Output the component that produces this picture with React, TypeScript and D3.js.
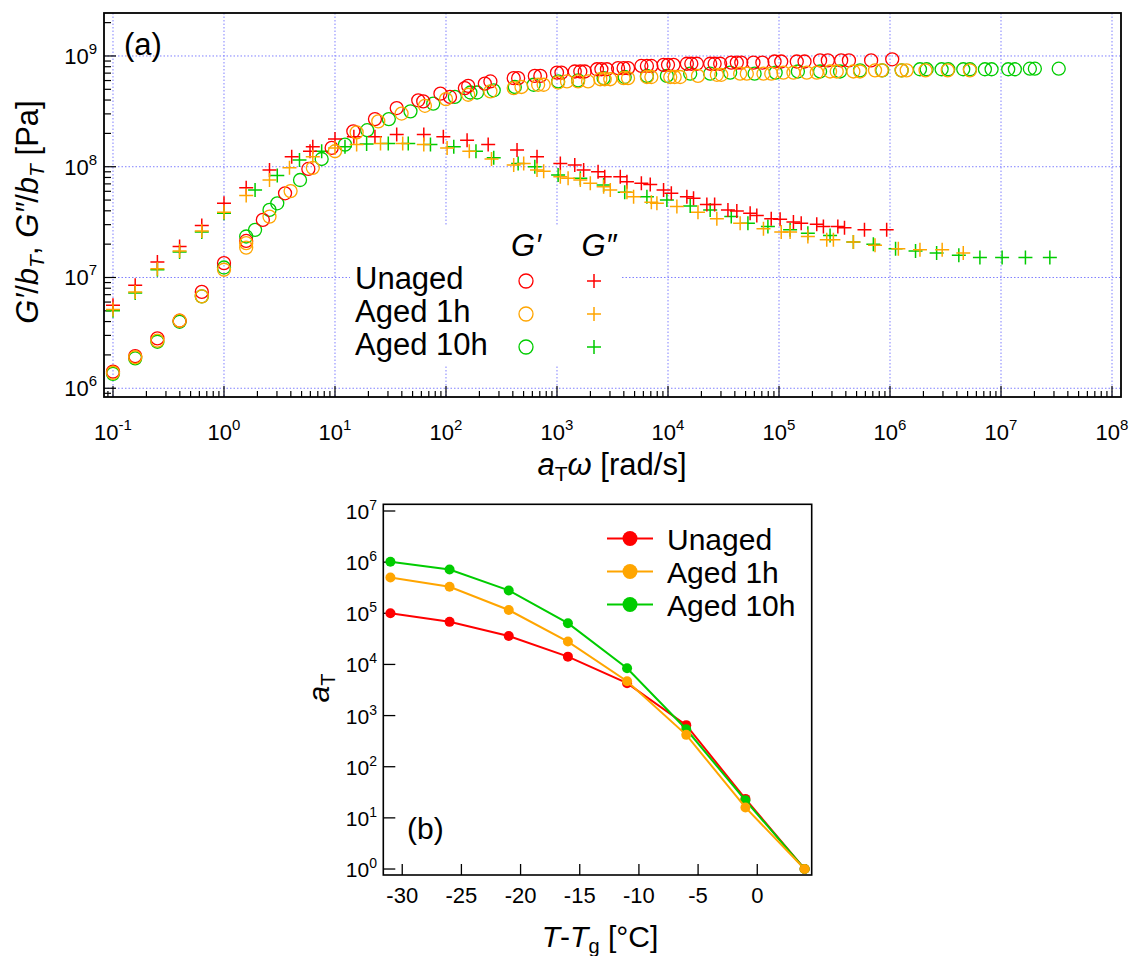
import React from "react";
import * as d3 from "d3";

const FONT = "'Liberation Sans', Arial, Helvetica, sans-serif";
const RED = "#ff0000";
const ORANGE = "#ffa500";
const GREEN = "#00cc00";
const GRID = "#8080ff";

// Panel (a): [log10(aT*omega [rad/s]), log10(G/bT [Pa])]
const unagedStorageLog: [number, number][] = [
  [-1.0, 6.15], [-0.8, 6.29], [-0.6, 6.45], [-0.4, 6.61], [-0.2, 6.87], [0.0, 7.13], [0.2, 7.33], [0.35, 7.52],
  [0.55, 7.76], [0.76, 7.98], [0.97, 8.17], [1.165, 8.32], [1.36, 8.43], [1.556, 8.53], [1.75, 8.6], [1.795, 8.59],
  [1.95, 8.66], [2.036, 8.63], [2.17, 8.71], [2.2, 8.73], [2.35, 8.75], [2.4, 8.77], [2.61, 8.8], [2.65, 8.8],
  [2.8, 8.82], [2.85, 8.82], [3.0, 8.85], [3.04, 8.85], [3.16, 8.86], [3.21, 8.86], [3.25, 8.86], [3.36, 8.88],
  [3.4, 8.88], [3.45, 8.88], [3.55, 8.89], [3.6, 8.89], [3.64, 8.89], [3.76, 8.91], [3.81, 8.91], [3.85, 8.91],
  [3.96, 8.92], [4.0, 8.92], [4.05, 8.92], [4.17, 8.93], [4.21, 8.93], [4.26, 8.93], [4.38, 8.93], [4.42, 8.93],
  [4.47, 8.93], [4.57, 8.94], [4.62, 8.94], [4.66, 8.94], [4.77, 8.94], [4.85, 8.94], [4.96, 8.95], [5.02, 8.95],
  [5.16, 8.95], [5.23, 8.95], [5.37, 8.96], [5.44, 8.96], [5.56, 8.96], [5.63, 8.96], [5.83, 8.96], [6.02, 8.97],
];
const aged1hStorageLog: [number, number][] = [
  [-1.0, 6.14], [-0.8, 6.28], [-0.6, 6.43], [-0.4, 6.61], [-0.2, 6.83], [0.0, 7.07], [0.2, 7.31], [0.2, 7.27],
  [0.41, 7.55], [0.6, 7.78], [0.8, 7.99], [1.0, 8.14], [1.195, 8.31], [1.39, 8.41], [1.6, 8.48], [1.81, 8.55],
  [2.0, 8.61], [2.2, 8.65], [2.4, 8.68], [2.61, 8.71], [2.68, 8.72], [2.83, 8.74], [2.88, 8.74], [3.01, 8.76],
  [3.09, 8.77], [3.19, 8.77], [3.28, 8.77], [3.39, 8.79], [3.43, 8.79], [3.48, 8.79], [3.6, 8.8], [3.64, 8.8],
  [3.81, 8.81], [3.85, 8.81], [4.02, 8.81], [4.06, 8.81], [4.11, 8.81], [4.27, 8.82], [4.44, 8.83], [4.48, 8.83],
  [4.65, 8.84], [4.71, 8.84], [4.86, 8.84], [4.93, 8.84], [5.04, 8.85], [5.13, 8.85], [5.25, 8.85], [5.34, 8.85],
  [5.46, 8.86], [5.52, 8.86], [5.67, 8.86], [5.73, 8.86], [5.865, 8.87], [5.925, 8.87], [6.105, 8.87], [6.15, 8.87],
  [6.32, 8.87], [6.52, 8.87], [6.72, 8.87],
];
const aged10hStorageLog: [number, number][] = [
  [-1.0, 6.13], [-0.8, 6.27], [-0.6, 6.42], [-0.4, 6.6], [-0.2, 6.83], [0.0, 7.09], [0.2, 7.37], [0.28, 7.43],
  [0.41, 7.61], [0.48, 7.67], [0.685, 7.88], [0.88, 8.07], [1.09, 8.2], [1.29, 8.33], [1.485, 8.43], [1.68, 8.5],
  [1.885, 8.57], [2.08, 8.63], [2.22, 8.67], [2.28, 8.67], [2.43, 8.69], [2.62, 8.72], [2.79, 8.74],
  [3.01, 8.77], [3.19, 8.78], [3.42, 8.8], [3.61, 8.81], [3.81, 8.82], [3.99, 8.82], [4.2, 8.84], [4.38, 8.84],
  [4.56, 8.85], [4.78, 8.84], [4.97, 8.85], [5.17, 8.86], [5.37, 8.86], [5.55, 8.86], [5.73, 8.87], [5.93, 8.87],
  [6.105, 8.87], [6.27, 8.88], [6.33, 8.88], [6.465, 8.88], [6.525, 8.88], [6.66, 8.88], [6.72, 8.88], [6.855, 8.88],
  [6.915, 8.88], [7.065, 8.88], [7.125, 8.88], [7.26, 8.885], [7.305, 8.885], [7.52, 8.885],
];
const unagedLossLog: [number, number][] = [
  [-1.0, 6.75], [-0.8, 6.93], [-0.6, 7.14], [-0.4, 7.28], [-0.2, 7.47], [0.0, 7.67], [0.2, 7.81], [0.41, 7.97],
  [0.61, 8.09], [0.775, 8.14], [0.8, 8.18], [1.0, 8.25], [1.17, 8.27], [1.36, 8.27], [1.556, 8.29], [1.8, 8.29],
  [1.976, 8.27], [2.19, 8.24], [2.38, 8.2], [2.64, 8.15], [2.82, 8.09], [3.03, 8.03], [3.16, 8.015], [3.24, 7.97],
  [3.37, 7.955], [3.43, 7.91], [3.57, 7.91], [3.63, 7.865], [3.76, 7.85], [3.84, 7.84], [3.96, 7.79], [4.03, 7.76],
  [4.17, 7.73], [4.23, 7.715], [4.35, 7.66], [4.42, 7.66], [4.54, 7.61], [4.62, 7.6], [4.74, 7.58], [4.8, 7.56],
  [4.93, 7.53], [5.01, 7.525], [5.13, 7.5], [5.2, 7.49], [5.34, 7.48], [5.4, 7.46], [5.53, 7.46], [5.59, 7.45],
  [5.77, 7.43], [5.97, 7.43],
];
const aged1hLossLog: [number, number][] = [
  [-1.0, 6.71], [-0.8, 6.87], [-0.6, 7.08], [-0.4, 7.24], [-0.2, 7.42], [0.0, 7.59], [0.2, 7.74], [0.41, 7.88],
  [0.59, 7.99], [0.8, 8.09], [1.0, 8.17], [1.195, 8.2], [1.41, 8.21], [1.61, 8.21], [1.8, 8.2], [2.01, 8.17],
  [2.21, 8.14], [2.41, 8.07], [2.61, 8.015], [2.7, 8.03], [2.82, 7.97], [2.88, 7.96], [3.03, 7.91], [3.1, 7.895],
  [3.21, 7.88], [3.3, 7.85], [3.42, 7.82], [3.48, 7.79], [3.63, 7.77], [3.69, 7.73], [3.85, 7.68], [3.9, 7.67],
  [4.08, 7.64], [4.27, 7.59], [4.44, 7.53], [4.65, 7.49], [4.86, 7.44], [5.02, 7.41], [5.1, 7.41], [5.26, 7.37],
  [5.43, 7.34], [5.49, 7.34], [5.67, 7.32], [5.865, 7.29], [6.075, 7.26], [6.27, 7.25], [6.47, 7.25], [6.66, 7.22],
];
const aged10hLossLog: [number, number][] = [
  [-1.0, 6.7], [-0.8, 6.86], [-0.6, 7.07], [-0.4, 7.23], [-0.2, 7.41], [0.0, 7.58], [0.28, 7.79], [0.48, 7.92],
  [0.68, 8.06], [0.88, 8.14], [1.09, 8.18], [1.285, 8.205], [1.48, 8.21], [1.66, 8.21], [1.86, 8.2], [2.07, 8.18],
  [2.27, 8.14], [2.43, 8.08], [2.65, 8.03], [2.8, 8.0], [3.01, 7.925], [3.21, 7.895], [3.42, 7.835], [3.61, 7.77],
  [3.81, 7.73], [3.99, 7.7], [4.2, 7.645], [4.38, 7.61], [4.57, 7.55], [4.72, 7.49], [4.9, 7.46], [5.1, 7.43],
  [5.26, 7.4], [5.46, 7.38], [5.67, 7.32], [5.85, 7.3], [6.05, 7.26], [6.23, 7.24], [6.42, 7.22], [6.62, 7.2],
  [6.81, 7.18], [7.01, 7.18], [7.22, 7.18], [7.44, 7.18],
];

// Panel (b): shift factors
const tempOffsets = [-31, -26, -21, -16, -11, -6, -1, 4];
const aTUnaged = [1.0e5, 6.8e4, 3.6e4, 1.42e4, 4.3e3, 650, 23.5, 1];
const aTAged1h = [5.0e5, 3.3e5, 1.16e5, 2.8e4, 4.7e3, 420, 16, 1];
const aTAged10h = [1.02e6, 7.2e5, 2.8e5, 6.4e4, 8.4e3, 540, 22, 1];

const seriesNames = ["Unaged", "Aged 1h", "Aged 10h"];
const seriesColors = [RED, ORANGE, GREEN];
const xTicksB = [-30, -25, -20, -15, -10, -5, 0];

// ---------- scales ----------
const A = { left: 104, right: 1121, top: 13, bottom: 397 };
const xA = d3.scaleLog().domain([10 ** -1.081, 10 ** 8.081]).range([A.left, A.right]);
const yA = d3.scaleLog().domain([10 ** 5.921, 10 ** 9.388]).range([A.bottom, A.top]);

const B = { left: 383.3, right: 811.7, top: 504.3, bottom: 875 };
const xB = d3.scaleLinear().domain([-31.6, 4.6]).range([B.left, B.right]);
const yB = d3.scaleLog().domain([10 ** -0.117, 10 ** 7.131]).range([B.bottom, B.top]);

const toPts = (arr: [number, number][]) => arr.map(([lx, ly]) => ({ x: 10 ** lx, y: 10 ** ly }));

const panelASeries = [
  { color: GREEN, gp: toPts(aged10hStorageLog), gpp: toPts(aged10hLossLog) },
  { color: RED, gp: toPts(unagedStorageLog), gpp: toPts(unagedLossLog) },
  { color: ORANGE, gp: toPts(aged1hStorageLog), gpp: toPts(aged1hLossLog) },
];

const panelBLegend = [
  { name: seriesNames[0], color: RED },
  { name: seriesNames[1], color: ORANGE },
  { name: seriesNames[2], color: GREEN },
];
// drawing order in panel (b): orange last (on top)
const panelBSeries = [
  { name: seriesNames[0], color: RED, values: aTUnaged },
  { name: seriesNames[2], color: GREEN, values: aTAged10h },
  { name: seriesNames[1], color: ORANGE, values: aTAged1h },
];

const isDecade = (v: number) => Math.abs(Math.log10(v) - Math.round(Math.log10(v))) < 1e-6;

function Plus({ x, y, color, s = 7 }: { x: number; y: number; color: string; s?: number }) {
  return <path d={`M${x - s},${y}H${x + s}M${x},${y - s}V${y + s}`} stroke={color} strokeWidth={1.5} fill="none" />;
}

function PowLabel({ x, y, exp, anchor, size, supSize, rise }: any) {
  return (
    <text x={x} y={y} textAnchor={anchor} fontSize={size} fontFamily={FONT} fill="#000">
      10
      <tspan dy={-rise} fontSize={supSize}>{exp}</tspan>
    </text>
  );
}

export default function App() {
  const xTicksA = xA.ticks().filter((t) => xA(t) >= A.left - 0.5 && xA(t) <= A.right + 0.5);
  const yTicksA = yA.ticks().filter((t) => yA(t) >= A.top - 0.5 && yA(t) <= A.bottom + 0.5);
  const xDecA = xTicksA.filter(isDecade);
  const yDecA = yTicksA.filter(isDecade);
  const yDecB = yB.ticks().filter(isDecade).filter((t) => yB(t) >= B.top && yB(t) <= B.bottom);

  const lineB = d3
    .line<number>()
    .x((_, i) => xB(tempOffsets[i]))
    .y((d) => yB(d));

  return (
    <svg
      width={1133}
      height={956}
      style={{ position: "absolute", left: 0, top: 0, background: "#fff" }}
      fontFamily={FONT}
    >
      <rect x={0} y={0} width={1133} height={956} fill="#fff" />

      {/* ---------- Panel (a) ---------- */}
      {xDecA.map((t) => (
        <line key={"gx" + t} x1={xA(t)} x2={xA(t)} y1={A.top} y2={A.bottom} stroke={GRID} strokeWidth={1} strokeDasharray="1.5,2" />
      ))}
      {yDecA.map((t) => (
        <line key={"gy" + t} x1={A.left} x2={A.right} y1={yA(t)} y2={yA(t)} stroke={GRID} strokeWidth={1} strokeDasharray="1.5,2" />
      ))}

      {xTicksA.map((t) => (
        <line key={"tx" + t} x1={xA(t)} x2={xA(t)} y1={A.bottom} y2={A.bottom - (isDecade(t) ? 11 : 6)} stroke="#000" strokeWidth={1.2} />
      ))}
      {yTicksA.map((t) => (
        <line key={"ty" + t} x1={A.left} x2={A.left + (isDecade(t) ? 12 : 7)} y1={yA(t)} y2={yA(t)} stroke="#000" strokeWidth={1.2} />
      ))}

      {xDecA.map((t) => (
        <PowLabel key={"lx" + t} x={xA(t)} y={440} exp={String(Math.round(Math.log10(t)))} anchor="middle" size={22} supSize={15} rise={10} />
      ))}
      {yDecA.map((t) => (
        <PowLabel key={"ly" + t} x={97} y={yA(t) + 8} exp={String(Math.round(Math.log10(t)))} anchor="end" size={22} supSize={15} rise={10} />
      ))}

      {panelASeries.map((s, si) => (
        <g key={"sa" + si}>
          {s.gp.map((p, i) => (
            <circle key={"c" + i} cx={xA(p.x)} cy={yA(p.y)} r={6.5} fill="none" stroke={s.color} strokeWidth={1.3} />
          ))}
          {s.gpp.map((p, i) => (
            <Plus key={"p" + i} x={xA(p.x)} y={yA(p.y)} color={s.color} />
          ))}
        </g>
      ))}

      {/* legend (a) */}
      <rect x={350} y={226} width={272} height={140} fill="#fff" />
      <text x={526} y={256} textAnchor="middle" fontSize={31} fontStyle="italic">G′</text>
      <text x={599} y={256} textAnchor="middle" fontSize={31} fontStyle="italic">G″</text>
      {seriesNames.map((n, i) => {
        const cy = 281 + i * 33;
        return (
          <g key={"lg" + i}>
            <text x={355} y={cy + 8} fontSize={31}>{n}</text>
            <circle cx={526} cy={cy} r={7} fill="none" stroke={seriesColors[i]} strokeWidth={1.3} />
            <Plus x={594} y={cy} color={seriesColors[i]} />
          </g>
        );
      })}

      <rect x={A.left} y={A.top} width={A.right - A.left} height={A.bottom - A.top} fill="none" stroke="#000" strokeWidth={1.8} />

      <text x={124} y={55} fontSize={31}>(a)</text>

      <text x={612} y={475} textAnchor="middle" fontSize={31}>
        <tspan fontStyle="italic">a</tspan>
        <tspan fontSize={21} dy={6}>T</tspan>
        <tspan fontStyle="italic" dy={-6}>ω</tspan>
        <tspan> [rad/s]</tspan>
      </text>
      <text transform="translate(38,212) rotate(-90)" textAnchor="middle" fontSize={31}>
        <tspan fontStyle="italic">G′</tspan>
        <tspan>/</tspan>
        <tspan fontStyle="italic">b</tspan>
        <tspan fontStyle="italic" fontSize={21} dy={6}>T</tspan>
        <tspan dy={-6}>, </tspan>
        <tspan fontStyle="italic">G″</tspan>
        <tspan>/</tspan>
        <tspan fontStyle="italic">b</tspan>
        <tspan fontStyle="italic" fontSize={21} dy={6}>T</tspan>
        <tspan dy={-6}> [Pa]</tspan>
      </text>

      {/* ---------- Panel (b) ---------- */}
      {yDecB.map((t) => (
        <g key={"byt" + t}>
          <line x1={B.left} x2={B.left + 12} y1={yB(t)} y2={yB(t)} stroke="#000" strokeWidth={1.3} />
          <PowLabel x={377} y={yB(t) + 8} exp={String(Math.round(Math.log10(t)))} anchor="end" size={21} supSize={14} rise={9} />
        </g>
      ))}
      {xTicksB.map((t) => (
        <g key={"bxt" + t}>
          <line x1={xB(t)} x2={xB(t)} y1={B.bottom} y2={B.bottom - 11} stroke="#000" strokeWidth={1.3} />
          <text x={xB(t)} y={903} textAnchor="middle" fontSize={22}>{String(t)}</text>
        </g>
      ))}

      {panelBSeries.map((s) => (
        <g key={"bs" + s.name}>
          <path d={lineB(s.values) || ""} fill="none" stroke={s.color} strokeWidth={2} />
          {s.values.map((v, i) => (
            <circle key={i} cx={xB(tempOffsets[i])} cy={yB(v)} r={5} fill={s.color} />
          ))}
        </g>
      ))}

      {panelBLegend.map((s, i) => {
        const cy = 538.5 + i * 33;
        return (
          <g key={"lb" + i}>
            <line x1={607} x2={653} y1={cy} y2={cy} stroke={s.color} strokeWidth={2} />
            <circle cx={630} cy={cy} r={7.5} fill={s.color} />
            <text x={667} y={cy + 11} fontSize={30}>{s.name}</text>
          </g>
        );
      })}

      <rect x={B.left} y={B.top} width={B.right - B.left} height={B.bottom - B.top} fill="none" stroke="#000" strokeWidth={1.6} />

      <text x={407} y={839} fontSize={30}>(b)</text>

      <text x={600} y={947} textAnchor="middle" fontSize={30}>
        <tspan fontStyle="italic">T</tspan>
        <tspan>-</tspan>
        <tspan fontStyle="italic">T</tspan>
        <tspan fontSize={20} dy={6}>g</tspan>
        <tspan dy={-6}> [°C]</tspan>
      </text>
      <text transform="translate(329,688) rotate(-90)" textAnchor="middle" fontSize={30}>
        <tspan fontStyle="italic">a</tspan>
        <tspan fontSize={20} dy={6}>T</tspan>
      </text>
    </svg>
  );
}
